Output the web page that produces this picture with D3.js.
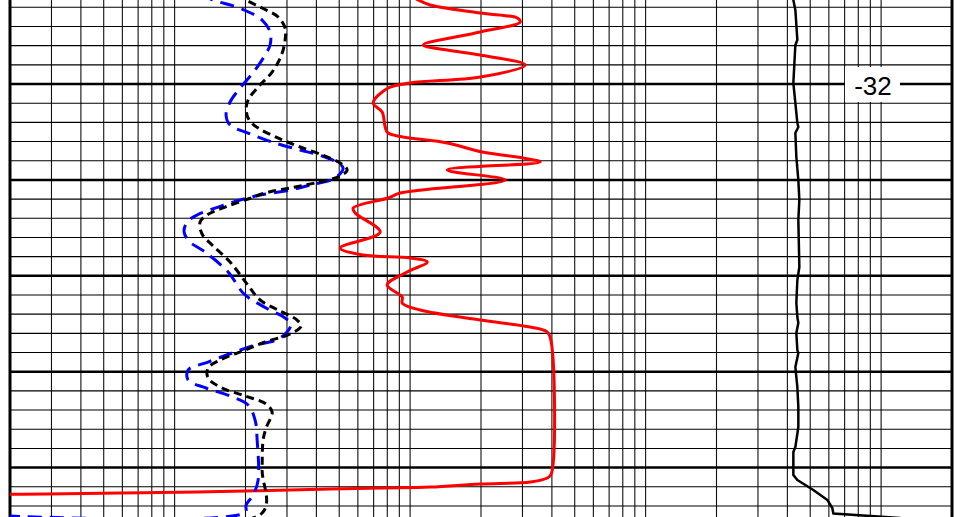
<!DOCTYPE html>
<html><head><meta charset="utf-8">
<script src="https://cdn.jsdelivr.net/npm/d3@7"></script>
<style>html,body{margin:0;padding:0;background:#fff;overflow:hidden}</style>
</head><body>
<svg id="chart" width="968" height="517"></svg>
<script>
// ---- data ----
const valueDomain = [2, 20000];           // log track limits
const elevDomain = [-31.124, -36.515];    // elevation at top / bottom of window
const decades = [1, 10, 100, 1000];
const multipliers = [2, 3, 4, 5, 6, 7, 8, 9, 10];
const depthLabels = [-32];

// [elevation, value]
const seriesBlueDashed = [
  [-31.061,12.83],[-31.124,14.57],[-31.218,19.35],[-31.333,23.53],[-31.458,25.44],[-31.593,25.44],
  [-31.698,24.23],[-31.854,21.97],[-32.042,18.97],[-32.188,17.20],[-32.323,16.54],[-32.428,17.20],
  [-32.511,20.51],[-32.605,25.94],[-32.688,34.12],[-32.751,42.32],[-32.824,49.48],[-32.876,51.95],
  [-32.980,48.05],[-33.053,37.62],[-33.116,29.46],[-33.157,23.07],[-33.210,18.97],[-33.283,15.30],
  [-33.366,12.46],[-33.439,11.30],[-33.543,10.97],[-33.648,11.63],[-33.752,13.47],[-33.960,16.87],
  [-34.190,19.73],[-34.336,24.47],[-34.440,29.46],[-34.503,31.24],[-34.649,28.06],[-34.732,21.35],
  [-34.805,17.54],[-34.899,13.87],[-34.982,11.41],[-35.087,11.41],[-35.170,13.60],[-35.253,17.20],
  [-35.347,20.51],[-35.504,21.97],[-35.712,22.41],[-36.129,22.63],[-36.286,21.55],[-36.390,20.12],
  [-36.470,19.92],[-36.494,1.5]
];
const seriesBlackDashed = [
  [-31.061,18.61],[-31.124,20.12],[-31.207,23.53],[-31.301,27.51],[-31.416,29.46],[-31.541,29.46],
  [-31.708,28.33],[-31.875,25.94],[-32.031,22.63],[-32.167,20.51],[-32.271,20.12],[-32.375,20.72],
  [-32.459,22.63],[-32.573,28.06],[-32.657,34.12],[-32.751,43.56],[-32.824,50.46],[-32.897,54.04],
  [-32.959,50.46],[-33.032,39.52],[-33.084,30.94],[-33.137,24.23],[-33.199,20.51],[-33.283,16.38],
  [-33.366,13.74],[-33.439,12.83],[-33.564,13.08],[-33.679,14.43],[-33.856,17.20],[-34.086,20.31],
  [-34.252,23.07],[-34.367,28.06],[-34.461,33.12],[-34.524,34.45],[-34.607,30.94],[-34.690,24.23],
  [-34.774,19.92],[-34.878,15.60],[-34.962,13.87],[-35.066,13.87],[-35.170,15.91],[-35.253,19.92],
  [-35.337,24.47],[-35.420,25.94],[-35.587,24.47],[-35.712,23.76],[-36.025,23.53],[-36.473,23.53],
  [-36.505,1.5]
];
const seriesRed = [
  [-31.072,100.1],[-31.124,108.2],[-31.176,121.7],[-31.260,198.4],[-31.312,285.1],[-31.353,293.4],
  [-31.458,198.4],[-31.593,113.7],[-31.645,143.7],[-31.698,198.4],[-31.802,308.2],[-31.927,198.4],
  [-31.990,100.1],[-32.042,80.69],[-32.198,69.68],[-32.292,76.09],[-32.448,78.36],[-32.511,80.69],
  [-32.615,143.7],[-32.709,202.4],[-32.772,302.2],[-32.813,357.0],[-32.897,143.7],[-33.001,253.4],
  [-33.137,90.76],[-33.189,80.69],[-33.293,57.30],[-33.345,58.44],[-33.543,74.61],[-33.710,50.46],
  [-33.783,63.18],[-33.814,100.1],[-33.856,118.2],[-33.960,97.2],[-34.096,79.90],[-34.221,92.55],
  [-34.284,92.55],[-34.357,110.4],[-34.461,198.4],[-34.534,323.6],[-34.586,382.2],[-34.690,397.4],
  [-36.067,397.4],[-36.109,382.2],[-36.150,323.6],[-36.171,198.4],[-36.203,121.7],[-36.213,76.84],
  [-36.223,45.77],[-36.255,12.46],[-36.265,5.87],[-36.276,2.87],[-36.281,1.5]
];
const seriesBlack = [
  [-31.072,4240],[-31.124,4240],[-31.228,4324],[-31.541,4409],[-31.593,4324],[-31.990,4240],
  [-32.198,4324],[-32.407,4409],[-32.448,4452],[-32.511,4324],[-32.761,4366],[-33.001,4452],
  [-33.210,4496],[-33.418,4452],[-33.908,4496],[-34.044,4409],[-34.284,4366],[-34.430,4409],
  [-34.492,4452],[-34.597,4366],[-34.774,4409],[-34.805,4452],[-34.951,4324],[-35.160,4409],
  [-35.368,4452],[-35.577,4452],[-35.785,4324],[-35.837,4240],[-36.077,4240],[-36.129,4409],
  [-36.234,5154],[-36.338,5912],[-36.421,6206],[-36.479,6267],[-36.526,12073]
];

// ---- drawing ----
const svg = d3.select("#chart");
const plotLeft = 10, plotRight = 952, plotTop = 0, plotBottom = 517;
const x = d3.scaleLog().domain(valueDomain).range([plotLeft, plotRight]);
const y = d3.scaleLinear().domain(elevDomain).range([plotTop, plotBottom]);

svg.append("rect").attr("width", 968).attr("height", 517).attr("fill", "#fff");

svg.append("clipPath").attr("id", "clip")
  .append("rect").attr("x", plotLeft).attr("y", plotTop)
  .attr("width", plotRight - plotLeft).attr("height", plotBottom - plotTop);

const grid = svg.append("g");
// vertical log grid
const vTicks = [];
decades.forEach(d => multipliers.forEach(m => vTicks.push(d * m)));
const vUnique = Array.from(new Set(vTicks)).filter(v => v > valueDomain[0] && v < valueDomain[1]);
grid.selectAll("line.v").data(vUnique).join("line")
  .attr("x1", d => x(d)).attr("x2", d => x(d))
  .attr("y1", plotTop).attr("y2", plotBottom)
  .attr("stroke", "#111").attr("stroke-width", 1.1);

// horizontal grid every 0.2, heavy every 1
const kTop = Math.floor(elevDomain[0] * 5), kBot = Math.ceil(elevDomain[1] * 5);
const hTicks = d3.range(kTop, kBot - 1, -1);
grid.selectAll("line.h").data(hTicks).join("line")
  .attr("x1", plotLeft).attr("x2", plotRight)
  .attr("y1", k => y(k / 5)).attr("y2", k => y(k / 5))
  .attr("stroke", "#000")
  .attr("stroke-width", k => (k % 5 === 0 ? 2.5 : 1.1));

// borders
grid.append("line").attr("x1", plotLeft).attr("x2", plotLeft).attr("y1", plotTop).attr("y2", plotBottom)
  .attr("stroke", "#000").attr("stroke-width", 3);
grid.append("line").attr("x1", plotRight).attr("x2", plotRight).attr("y1", plotTop).attr("y2", plotBottom)
  .attr("stroke", "#000").attr("stroke-width", 3);

// depth labels
const lab = svg.append("g").selectAll("g").data(depthLabels).join("g");
lab.append("rect")
  .attr("x", 845).attr("y", d => y(d) - 17).attr("width", 55).attr("height", 35)
  .attr("fill", "#fff");
lab.append("text")
  .attr("x", 873).attr("y", d => y(d) + 10.5)
  .attr("text-anchor", "middle")
  .attr("font-family", "Liberation Sans, Arial, sans-serif")
  .attr("font-size", 26).attr("fill", "#000")
  .text(d => String(d));

// curves
const smooth = d3.line().x(d => x(d[1])).y(d => y(d[0])).curve(d3.curveCatmullRom.alpha(0.5));
const straight = d3.line().x(d => x(d[1])).y(d => y(d[0]));
const curves = svg.append("g").attr("clip-path", "url(#clip)");
curves.append("path").datum(seriesRed).attr("d", smooth)
  .attr("fill", "none").attr("stroke", "#ff0000").attr("stroke-width", 3).attr("stroke-linejoin", "round");
curves.append("path").datum(seriesBlack).attr("d", straight)
  .attr("fill", "none").attr("stroke", "#000").attr("stroke-width", 2.5).attr("stroke-linejoin", "round");
curves.append("path").datum(seriesBlueDashed).attr("d", smooth)
  .attr("fill", "none").attr("stroke", "#0000ff").attr("stroke-width", 3)
  .attr("stroke-dasharray", "14,8");
curves.append("path").datum(seriesBlackDashed).attr("d", smooth)
  .attr("fill", "none").attr("stroke", "#000").attr("stroke-width", 3)
  .attr("stroke-dasharray", "8,5");
</script>
</body></html>
